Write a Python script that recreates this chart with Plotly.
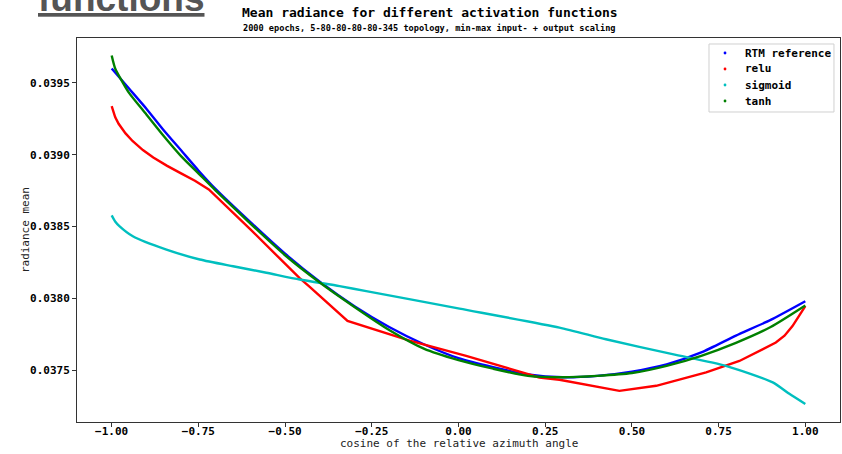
import plotly.graph_objects as go

# ---- data ----
rtm_x = [-1.00, -0.95, -0.90, -0.85, -0.80, -0.75, -0.70, -0.60, -0.50, -0.40, -0.30, -0.20, -0.10,
         0.00, 0.10, 0.20, 0.30, 0.40, 0.50, 0.60, 0.70, 0.80, 0.90, 1.00]
rtm_y = [0.03960, 0.03946, 0.03932, 0.03917, 0.03903, 0.03889, 0.03876, 0.03853, 0.03831, 0.038115,
         0.037945, 0.03780, 0.03768, 0.037583, 0.03752, 0.03747, 0.03745, 0.03746, 0.03749, 0.03754,
         0.037623, 0.03774, 0.03785, 0.03798]

relu_x = [-1.00, -0.995, -0.99, -0.98, -0.96, -0.94, -0.91, -0.88, -0.84, -0.80, -0.76, -0.72,
          -0.60, -0.458, -0.429, -0.320, -0.141, 0.022, 0.195, 0.233, 0.291, 0.464, 0.570,
          0.714, 0.810, 0.915, 0.94, 0.963, 1.00]
relu_y = [0.039338, 0.039295, 0.039262, 0.039215, 0.039148, 0.039095, 0.039032, 0.038980, 0.038922,
          0.038870, 0.038818, 0.038758, 0.038480, 0.038140, 0.038080, 0.037842, 0.037705,
          0.037599, 0.037472, 0.037449, 0.037433, 0.037356, 0.037391, 0.037484, 0.037564, 0.037692,
          0.037740, 0.037807, 0.037946]

sig_x = [-1.00, -0.99, -0.977, -0.939, -0.842, -0.746, -0.650, -0.554, -0.458, -0.343, -0.266, 0.003,
         0.291, 0.425, 0.617, 0.771, 0.906, 0.954, 1.00]
sig_y = [0.038577, 0.038535, 0.038501, 0.038432, 0.038339, 0.038270, 0.038223, 0.038178, 0.038131,
         0.038085, 0.038050, 0.037928, 0.037796, 0.037715, 0.037611, 0.037530, 0.037415, 0.037335, 0.037264]

tanh_x = [-1.00, -0.99, -0.97, -0.95, -0.90, -0.85, -0.80, -0.75, -0.70, -0.60, -0.50, -0.40, -0.30,
          -0.20, -0.10, 0.00, 0.10, 0.20, 0.30, 0.40, 0.50, 0.60, 0.70, 0.80, 0.90, 1.00]
tanh_y = [0.03969, 0.03960, 0.03951, 0.03943, 0.03928, 0.03913, 0.03899, 0.03887, 0.03875, 0.03852,
          0.03830, 0.03811, 0.03794, 0.03778, 0.03765, 0.03757, 0.03751, 0.03746, 0.03745, 0.03746,
          0.03748, 0.03753, 0.03760, 0.03769, 0.03780, 0.03795]

series_names = ["RTM reference", "relu", "sigmoid", "tanh"]
series_colors = ["#0000ff", "#ff0000", "#00bfbf", "#008000"]
series_x = [rtm_x, relu_x, sig_x, tanh_x]
series_y = [rtm_y, relu_y, sig_y, tanh_y]
series_shape = ["spline", "linear", "spline", "spline"]

x_ticks = [-1.0, -0.75, -0.5, -0.25, 0.0, 0.25, 0.5, 0.75, 1.0]
y_ticks = [0.0375, 0.0380, 0.0385, 0.0390, 0.0395]

title = "Mean radiance for different activation functions"
subtitle = "2000 epochs, 5-80-80-80-80-345 topology, min-max input- + output scaling"
x_title = "cosine of the relative azimuth angle"
y_title = "radiance mean"

MONO = "DejaVu Sans Mono"

fig = go.Figure()
for name, col, xs, ys, shp in zip(series_names, series_colors, series_x, series_y, series_shape):
    fig.add_trace(go.Scatter(x=xs, y=ys, mode="lines", name=name, showlegend=False,
                             line=dict(color=col, width=2.4, shape=shp, smoothing=0.6)))

axis_common = dict(showgrid=False, zeroline=False, showline=True, linecolor="#333333", linewidth=1,
                   mirror=True, ticks="outside", ticklen=4, tickcolor="#333333",
                   tickfont=dict(family=MONO, size=11, color="black", weight="bold"))

fig.update_layout(
    width=842, height=454,
    margin=dict(l=77, r=2, t=38, b=32),
    paper_bgcolor="white", plot_bgcolor="white",
    xaxis=dict(range=[-1.1, 1.1], tickvals=x_ticks, tickformat=".2f", ticklabelstandoff=-5,
               **axis_common),
    yaxis=dict(range=[0.037139, 0.039812], tickvals=y_ticks, tickformat=".4f", **axis_common),
    showlegend=False,
)

# ---- legend (drawn manually to match the compact matplotlib layout) ----
L, R, T, B = 0.8283, 0.9921, 0.9844, 0.8073
fig.add_shape(type="rect", xref="paper", yref="paper", x0=L, x1=R, y0=B, y1=T,
              line=dict(color="#d0d0d0", width=1), fillcolor="rgba(255,255,255,0.85)", layer="above")
row_y = [0.9609, 0.9193, 0.8776, 0.8359]
for name, col, ry in zip(series_names, series_colors, row_y):
    fig.add_shape(type="circle", xref="paper", yref="paper", xsizemode="pixel", ysizemode="pixel",
                  xanchor=0.8493, yanchor=ry, x0=-1.4, x1=1.4, y0=-1.4, y1=1.4,
                  fillcolor=col, line=dict(width=0), layer="above")
    fig.add_annotation(text=name, xref="paper", yref="paper", x=0.8730, y=ry,
                       xanchor="left", yanchor="middle", showarrow=False,
                       font=dict(family=MONO, size=11, color="black", weight="bold"))

fig.add_annotation(text=title, xref="paper", yref="paper", x=0.4626, y=1.0677,
                   xanchor="center", yanchor="middle", showarrow=False,
                   font=dict(family=MONO, size=13, color="black", weight="bold"))
fig.add_annotation(text=subtitle, xref="paper", yref="paper", x=0.4626, y=1.026,
                   xanchor="center", yanchor="middle", showarrow=False,
                   font=dict(family=MONO, size=8.6, color="black", weight="bold"))
fig.add_annotation(text=x_title, xref="paper", yref="paper", x=0.5, y=-0.055,
                   xanchor="center", yanchor="middle", showarrow=False,
                   font=dict(family=MONO, size=11, color="#222222"))
fig.add_annotation(text=y_title, xref="paper", yref="paper", x=-0.068, y=0.5,
                   xanchor="center", yanchor="middle", showarrow=False, textangle=-90,
                   font=dict(family=MONO, size=11, color="#222222"))
fig.add_annotation(text="<u>functions</u>", xref="paper", yref="paper", x=-0.054, y=1.1034,
                   xanchor="left", yanchor="middle", showarrow=False,
                   font=dict(family="Liberation Sans", size=37, color="#555555", weight="bold"))

fig.write_html("out.html")
